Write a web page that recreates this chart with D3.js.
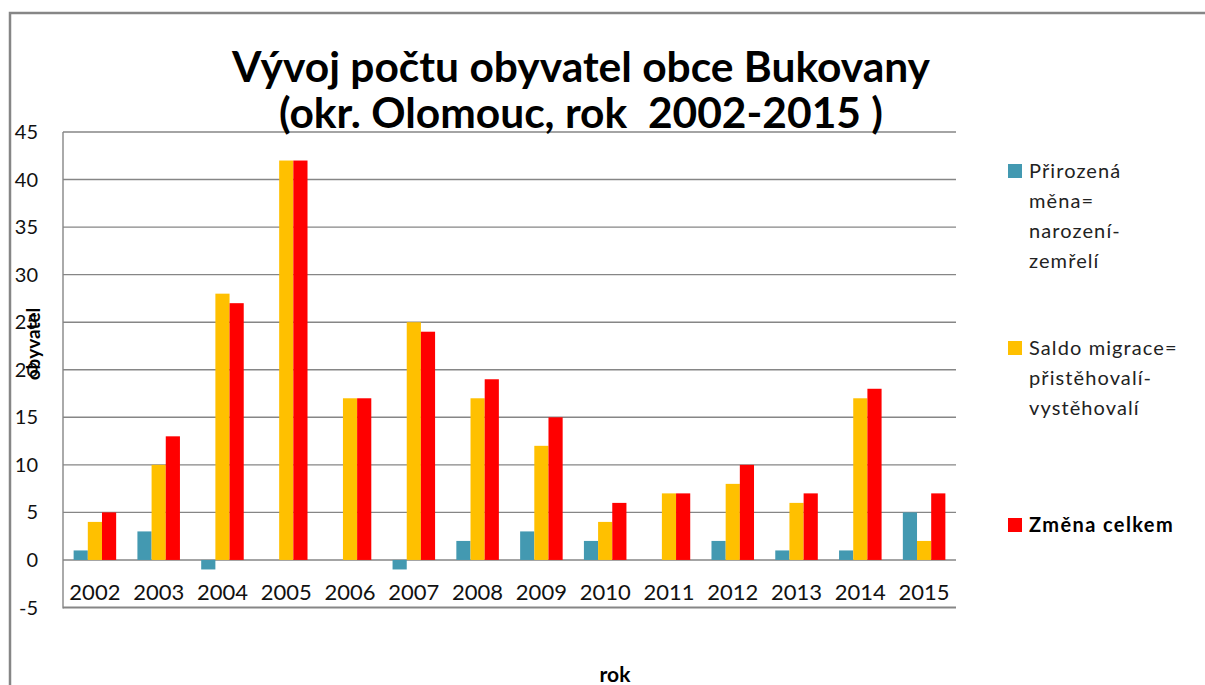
<!DOCTYPE html>
<html>
<head>
<meta charset="utf-8">
<script src="https://cdn.jsdelivr.net/npm/d3@7"></script>
<style>
  body { margin: 0; background: #fff; }
  svg { display: block; font-family: Lato, "Open Sans", sans-serif; }
</style>
</head>
<body>
<script>
(function() {

    var width = 1205;
    var height = 685;

    // data
    const years = ["2002", "2003", "2004", "2005", "2006", "2007", "2008",
                   "2009", "2010", "2011", "2012", "2013", "2014", "2015"];
    const prirozena = [1, 3, -1, 0, 0, -1, 2, 3, 2, 0, 2, 1, 1, 5];
    const migrace   = [4, 10, 28, 42, 17, 25, 17, 12, 4, 7, 8, 6, 17, 2];
    const celkem    = [5, 13, 27, 42, 17, 24, 19, 15, 6, 7, 10, 7, 18, 7];
    const yTicks = [-5, 0, 5, 10, 15, 20, 25, 30, 35, 40, 45];

    const series = [
        { key: "prir", values: prirozena, color: "#4399b1",
          label: ["Přirozená", "měna=", "narození-", "zemřelí"], bold: false },
        { key: "migr", values: migrace, color: "#ffc000",
          label: ["Saldo migrace=", "přistěhovalí-", "vystěhovalí"], bold: false },
        { key: "celk", values: celkem, color: "#ff0000",
          label: ["Změna celkem"], bold: true }
    ];

    const plot = { left: 63, right: 956, top: 132, bottom: 607.5 };

    const svg = d3.select("body")
        .append("svg")
        .attr("width", width)
        .attr("height", height);

    // outer chart frame (runs off the right and bottom edges)
    svg.append("rect")
        .attr("x", 10).attr("y", 13)
        .attr("width", width + 20).attr("height", height + 20)
        .attr("fill", "none")
        .attr("stroke", "#868686")
        .attr("stroke-width", 2.5);

    //scales
    const x0 = d3.scaleBand()
        .domain(years)
        .range([plot.left, plot.right]);

    const x1 = d3.scaleBand()
        .domain(series.map(s => s.key))
        .range([0, x0.bandwidth()])
        .paddingOuter(0.75);

    const y = d3.scaleLinear()
        .domain([-5, 45])
        .range([plot.bottom, plot.top]);

    //gridlines
    svg.append("g")
        .selectAll("line")
        .data(yTicks)
        .join("line")
        .attr("x1", plot.left)
        .attr("x2", plot.right)
        .attr("y1", d => y(d))
        .attr("y2", d => y(d))
        .attr("stroke", "#868686")
        .attr("stroke-width", d => d === -5 ? 2 : 1.4);

    // left border of plot area
    svg.append("line")
        .attr("x1", plot.left).attr("x2", plot.left)
        .attr("y1", plot.top).attr("y2", plot.bottom + 1)
        .attr("stroke", "#868686")
        .attr("stroke-width", 1.4);

    //y tick labels
    svg.append("g")
        .selectAll("text")
        .data(yTicks)
        .join("text")
        .attr("x", 38)
        .attr("y", d => y(d))
        .attr("dy", "0.35em")
        .attr("text-anchor", "end")
        .attr("font-size", 20)
        .attr("fill", "#111")
        .text(d => d);

    //bars
    const groups = svg.append("g")
        .selectAll("g")
        .data(years)
        .join("g")
        .attr("transform", d => "translate(" + x0(d) + ",0)");

    groups.selectAll("rect")
        .data((d, i) => series.map(s => ({ key: s.key, color: s.color, value: s.values[i] })))
        .join("rect")
        .attr("x", d => x1(d.key))
        .attr("width", x1.bandwidth())
        .attr("y", d => y(Math.max(0, d.value)))
        .attr("height", d => Math.abs(y(d.value) - y(0)))
        .attr("fill", d => d.color);

    //x labels
    svg.append("g")
        .selectAll("text")
        .data(years)
        .join("text")
        .attr("x", d => x0(d) + x0.bandwidth() / 2)
        .attr("y", 592)
        .attr("dy", "0.35em")
        .attr("text-anchor", "middle")
        .attr("font-size", 22)
        .attr("fill", "#111")
        .text(d => d);

    //title
    const title = svg.append("text")
        .attr("text-anchor", "middle")
        .attr("font-weight", "bold")
        .attr("font-size", 42.5)
        .attr("fill", "#000");
    title.append("tspan").attr("x", 581).attr("y", 82).text("Vývoj počtu obyvatel obce Bukovany");
    title.append("tspan").attr("x", 581).attr("y", 128).attr("xml:space", "preserve").text("(okr. Olomouc, rok  2002-2015 )");

    //axis titles
    svg.append("text")
        .attr("x", 615).attr("y", 675)
        .attr("dy", "0.35em")
        .attr("text-anchor", "middle")
        .attr("font-weight", "bold")
        .attr("font-size", 21)
        .text("rok");

    svg.append("text")
        .attr("transform", "translate(33,344) rotate(-90)")
        .attr("dy", "0.35em")
        .attr("text-anchor", "middle")
        .attr("font-weight", "bold")
        .attr("font-size", 19)
        .text("obyvatel");

    //legend
    const legendY = [171, 348, 525];
    const legend = svg.append("g")
        .selectAll("g")
        .data(series)
        .join("g")
        .attr("transform", (d, i) => "translate(1008," + legendY[i] + ")");

    legend.append("rect")
        .attr("x", 0).attr("y", -7)
        .attr("width", 14).attr("height", 14)
        .attr("fill", d => d.color);

    legend.append("text")
        .attr("font-size", 20)
        .attr("letter-spacing", d => d.bold ? 1.4 : 1.1)
        .attr("font-weight", d => d.bold ? "bold" : "normal")
        .attr("fill", d => d.bold ? "#000" : "#222")
        .selectAll("tspan")
        .data(d => d.label)
        .join("tspan")
        .attr("x", 21)
        .attr("y", (d, i) => i * 30)
        .attr("dy", "0.35em")
        .text(d => d);

})();
</script>
</body>
</html>
